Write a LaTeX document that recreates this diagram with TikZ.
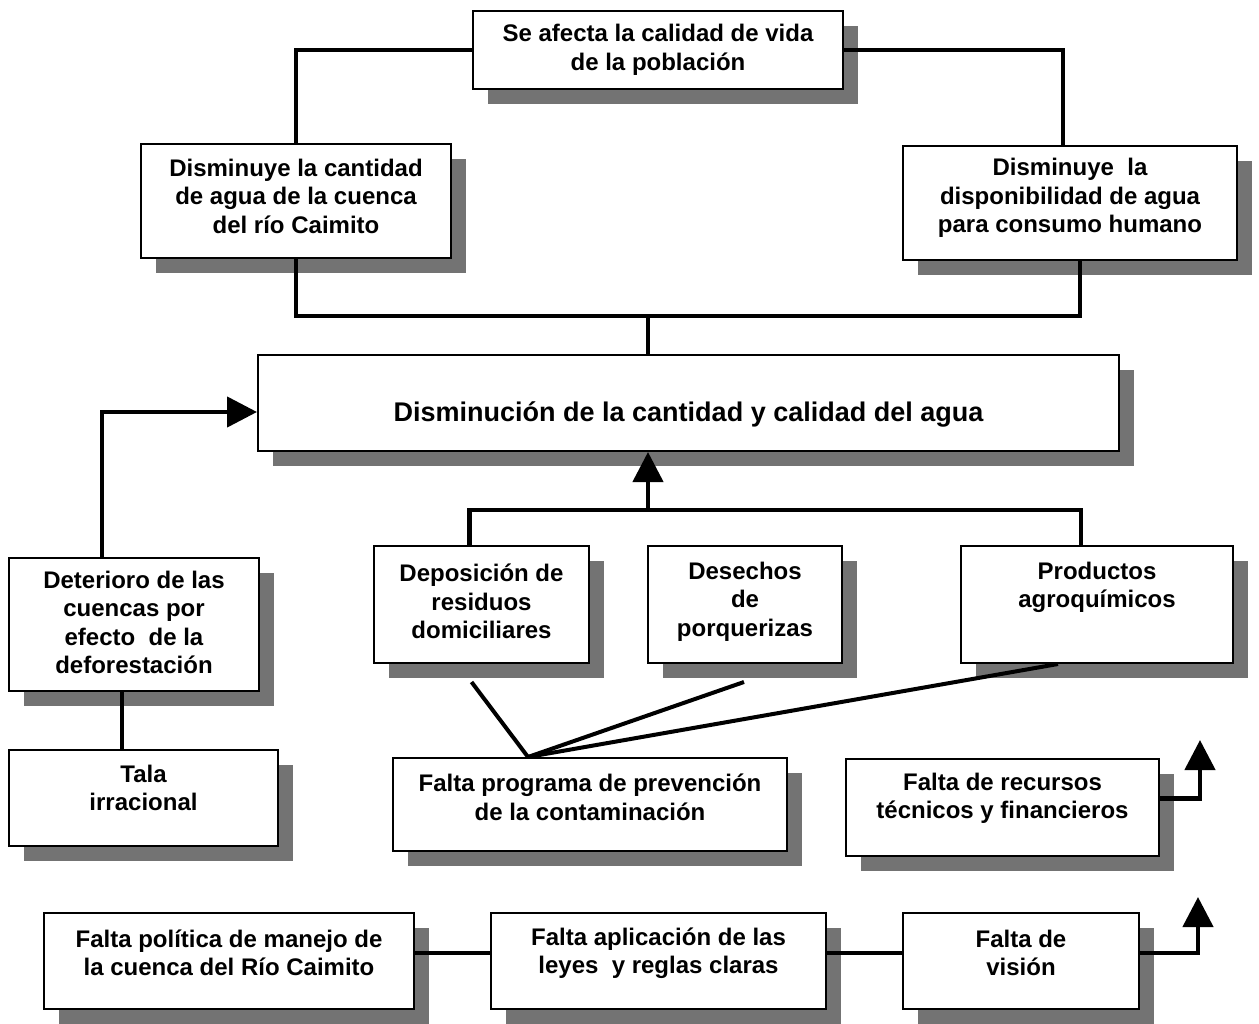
\documentclass[tikz,border=0pt]{standalone}
\usepackage{fontspec}
\setmainfont{Liberation Sans}
\usetikzlibrary{arrows.meta}
\tikzset{
  shadowc/.style={fill=black!55},
  boxst/.style={draw=black, line width=2pt, fill=white, inner sep=0pt},
  txt/.style={font=\bfseries\fontsize{24}{28.5}\selectfont, align=center, inner sep=0pt},
  conn/.style={line width=4.5pt, line join=miter},
  thinconn/.style={line width=4pt},
  arr/.style={conn, -{Triangle[length=30pt,width=30pt]}},
}
\newcommand{\shbox}[7]{%
  \fill[shadowc] ({#2+16},{#3+16}) rectangle ({#4+16},{#5+16});
  \node[boxst, anchor=north west, minimum width={(#4-#2)*1pt}, minimum height={(#5-#3)*1pt}] (#1) at (#2,#3) {};
  \node[txt] (#1t) at ([yshift=#7pt]#1.center) {#6};
}
\begin{document}
\begin{tikzpicture}[x=1pt,y=-1pt]
\useasboundingbox[fill=white] (0,0) rectangle (1259,1024);
\shbox{top}{472}{10}{842}{88}{Se afecta la calidad de vida\\de la población}{0}
\shbox{lb}{140}{143}{450}{257}{Disminuye la cantidad\\de agua de la cuenca\\del río Caimito}{5}
\shbox{rb}{902}{145}{1236}{259}{Disminuye\ \ la\\disponibilidad de agua\\para consumo humano}{5}
\shbox{main}{257}{354}{1118}{450}{\fontsize{27}{30}\selectfont Disminución de la cantidad y calidad del agua}{-11}
\shbox{det}{8}{557}{258}{690}{Deterioro de las\\cuencas por\\efecto\ \ de la\\deforestación}{2}
\shbox{dep}{373}{545}{588}{662}{Deposición de\\residuos\\domiciliares}{3}
\shbox{des}{647}{545}{841}{662}{Desechos\\de\\porquerizas}{3}
\shbox{pro}{960}{545}{1232}{662}{Productos\\agroquímicos}{17}
\shbox{tal}{8}{749}{277}{845}{Tala\\irracional}{10}
\shbox{prg}{392}{757}{786}{850}{Falta programa de prevención\\de la contaminación}{7}
\shbox{rec}{845}{758}{1158}{855}{Falta de recursos\\técnicos y financieros}{9}
\shbox{pol}{43}{912}{413}{1008}{Falta política de manejo de\\la cuenca del Río Caimito}{8}
\shbox{apl}{490}{912}{825}{1008}{Falta aplicación de las\\leyes\ \ y reglas claras}{8}
\shbox{vis}{902}{912}{1138}{1008}{Falta de\\visión}{8}
% connectors
\draw[conn] (top.west) -| (lb.north);
\draw[conn] (top.east) -| ([xshift=-7pt]rb.north);
\coordinate (jb) at (648,316);
\draw[conn] (lb.south) |- (jb) -| ([xshift=10pt]rb.south);
\draw[conn] (jb) -- (jb |- main.north);
\coordinate (da) at ([xshift=94pt]det.north west);
\draw[arr] (da) |- ([yshift=-9pt]main.west);
\coordinate (jm) at (648,510);
\draw[arr] (jm) -- (jm |- main.south);
\draw[conn] ([xshift=-12pt]dep.north) |- (jm) -| ([xshift=-16pt]pro.north);
\draw[conn] ([xshift=-12pt]det.south) -- ([xshift=-12pt]det.south |- tal.north);
\coordinate (ap) at ([xshift=-62pt]prg.north);
\draw[thinconn] (ap) -- ([shift={(-10pt,-18pt)}]dep.south);
\draw[thinconn] (ap) -- ([shift={(-1pt,-18pt)}]des.south);
\draw[thinconn] (ap) -- ([xshift=-39pt]pro.south);
\coordinate (ra) at (1200,740);
\draw[arr] ([yshift=9pt]rec.east) -| (ra);
\coordinate (va) at (1198,897);
\draw[arr] ([yshift=8pt]vis.east) -| (va);
\draw[thinconn] ([yshift=8pt]pol.east) -- ([yshift=8pt]apl.west);
\draw[thinconn] ([yshift=8pt]apl.east) -- ([yshift=8pt]vis.west);
\end{tikzpicture}
\end{document}
